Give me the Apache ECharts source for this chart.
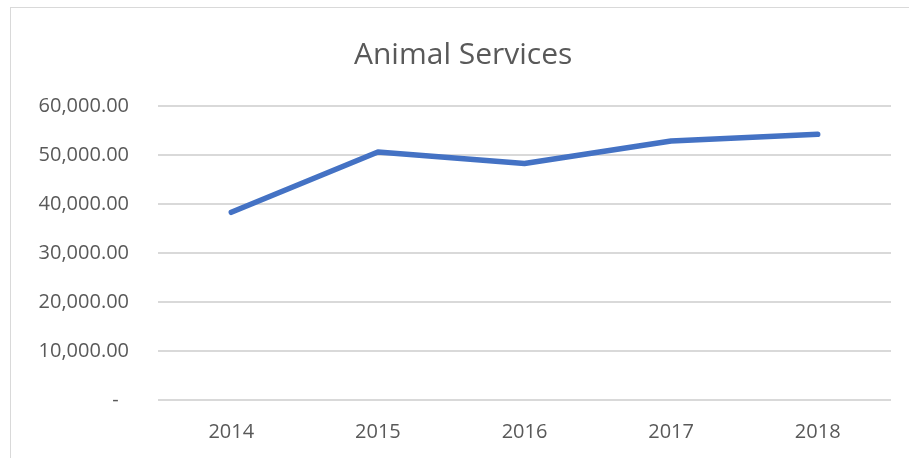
<!DOCTYPE html>
<html>
<head>
<meta charset="utf-8">
<script src="https://cdn.jsdelivr.net/npm/echarts@6/dist/echarts.min.js"></script>
<style>
  html, body { margin: 0; padding: 0; background: #fff; }
  #frame {
    position: absolute; left: 10px; top: 7px; width: 920px; height: 470px;
    border-left: 1px solid #d9d9d9; border-top: 1px solid #d9d9d9;
  }
  #chart { position: absolute; left: 0; top: 0; width: 909px; height: 458px; }
</style>
</head>
<body>
<div id="frame"></div>
<div id="chart"></div>
<script>
const years = ["2014", "2015", "2016", "2017", "2018"];
const animalServices = [38300, 50600, 48260, 52860, 54230];

const textColor = "#595959",
  gridColor = "#d9d9d9",
  fontName = "'Open Sans', 'Liberation Sans', sans-serif";

let myChart = echarts.init(document.getElementById("chart"));

let option = {
  animation: false,
  title: {
    text: "Animal Services",
    left: 349,
    top: 35,
    textStyle: {
      fontFamily: fontName,
      fontSize: 30,
      fontWeight: "normal",
      color: textColor,
    },
  },
  grid: {
    left: 158,
    right: 18,
    top: 106,
    bottom: 58,
  },
  xAxis: {
    type: "category",
    data: years,
    boundaryGap: true,
    axisLine: { show: false },
    axisTick: { show: false },
    axisLabel: {
      margin: 22,
      fontFamily: fontName,
      fontSize: 20,
      color: textColor,
    },
  },
  yAxis: {
    type: "value",
    min: 0,
    max: 60000,
    interval: 10000,
    axisLine: { show: false },
    axisTick: { show: false },
    splitLine: { lineStyle: { color: gridColor, width: 2 } },
    axisLabel: {
      margin: 29,
      fontFamily: fontName,
      fontSize: 20,
      color: textColor,
      formatter: function (v) {
        if (v === 0) return "-  ";
        return v.toLocaleString("en-US", {
          minimumFractionDigits: 2,
          maximumFractionDigits: 2,
        });
      },
    },
  },
  series: [
    {
      name: "Animal Services",
      type: "line",
      data: animalServices,
      showSymbol: false,
      lineStyle: { color: "#4472C4", width: 5.5, cap: "round", join: "round" },
      itemStyle: { color: "#4472C4" },
    },
  ],
};

myChart.setOption(option);
window.addEventListener("resize", myChart.resize);
</script>
</body>
</html>
